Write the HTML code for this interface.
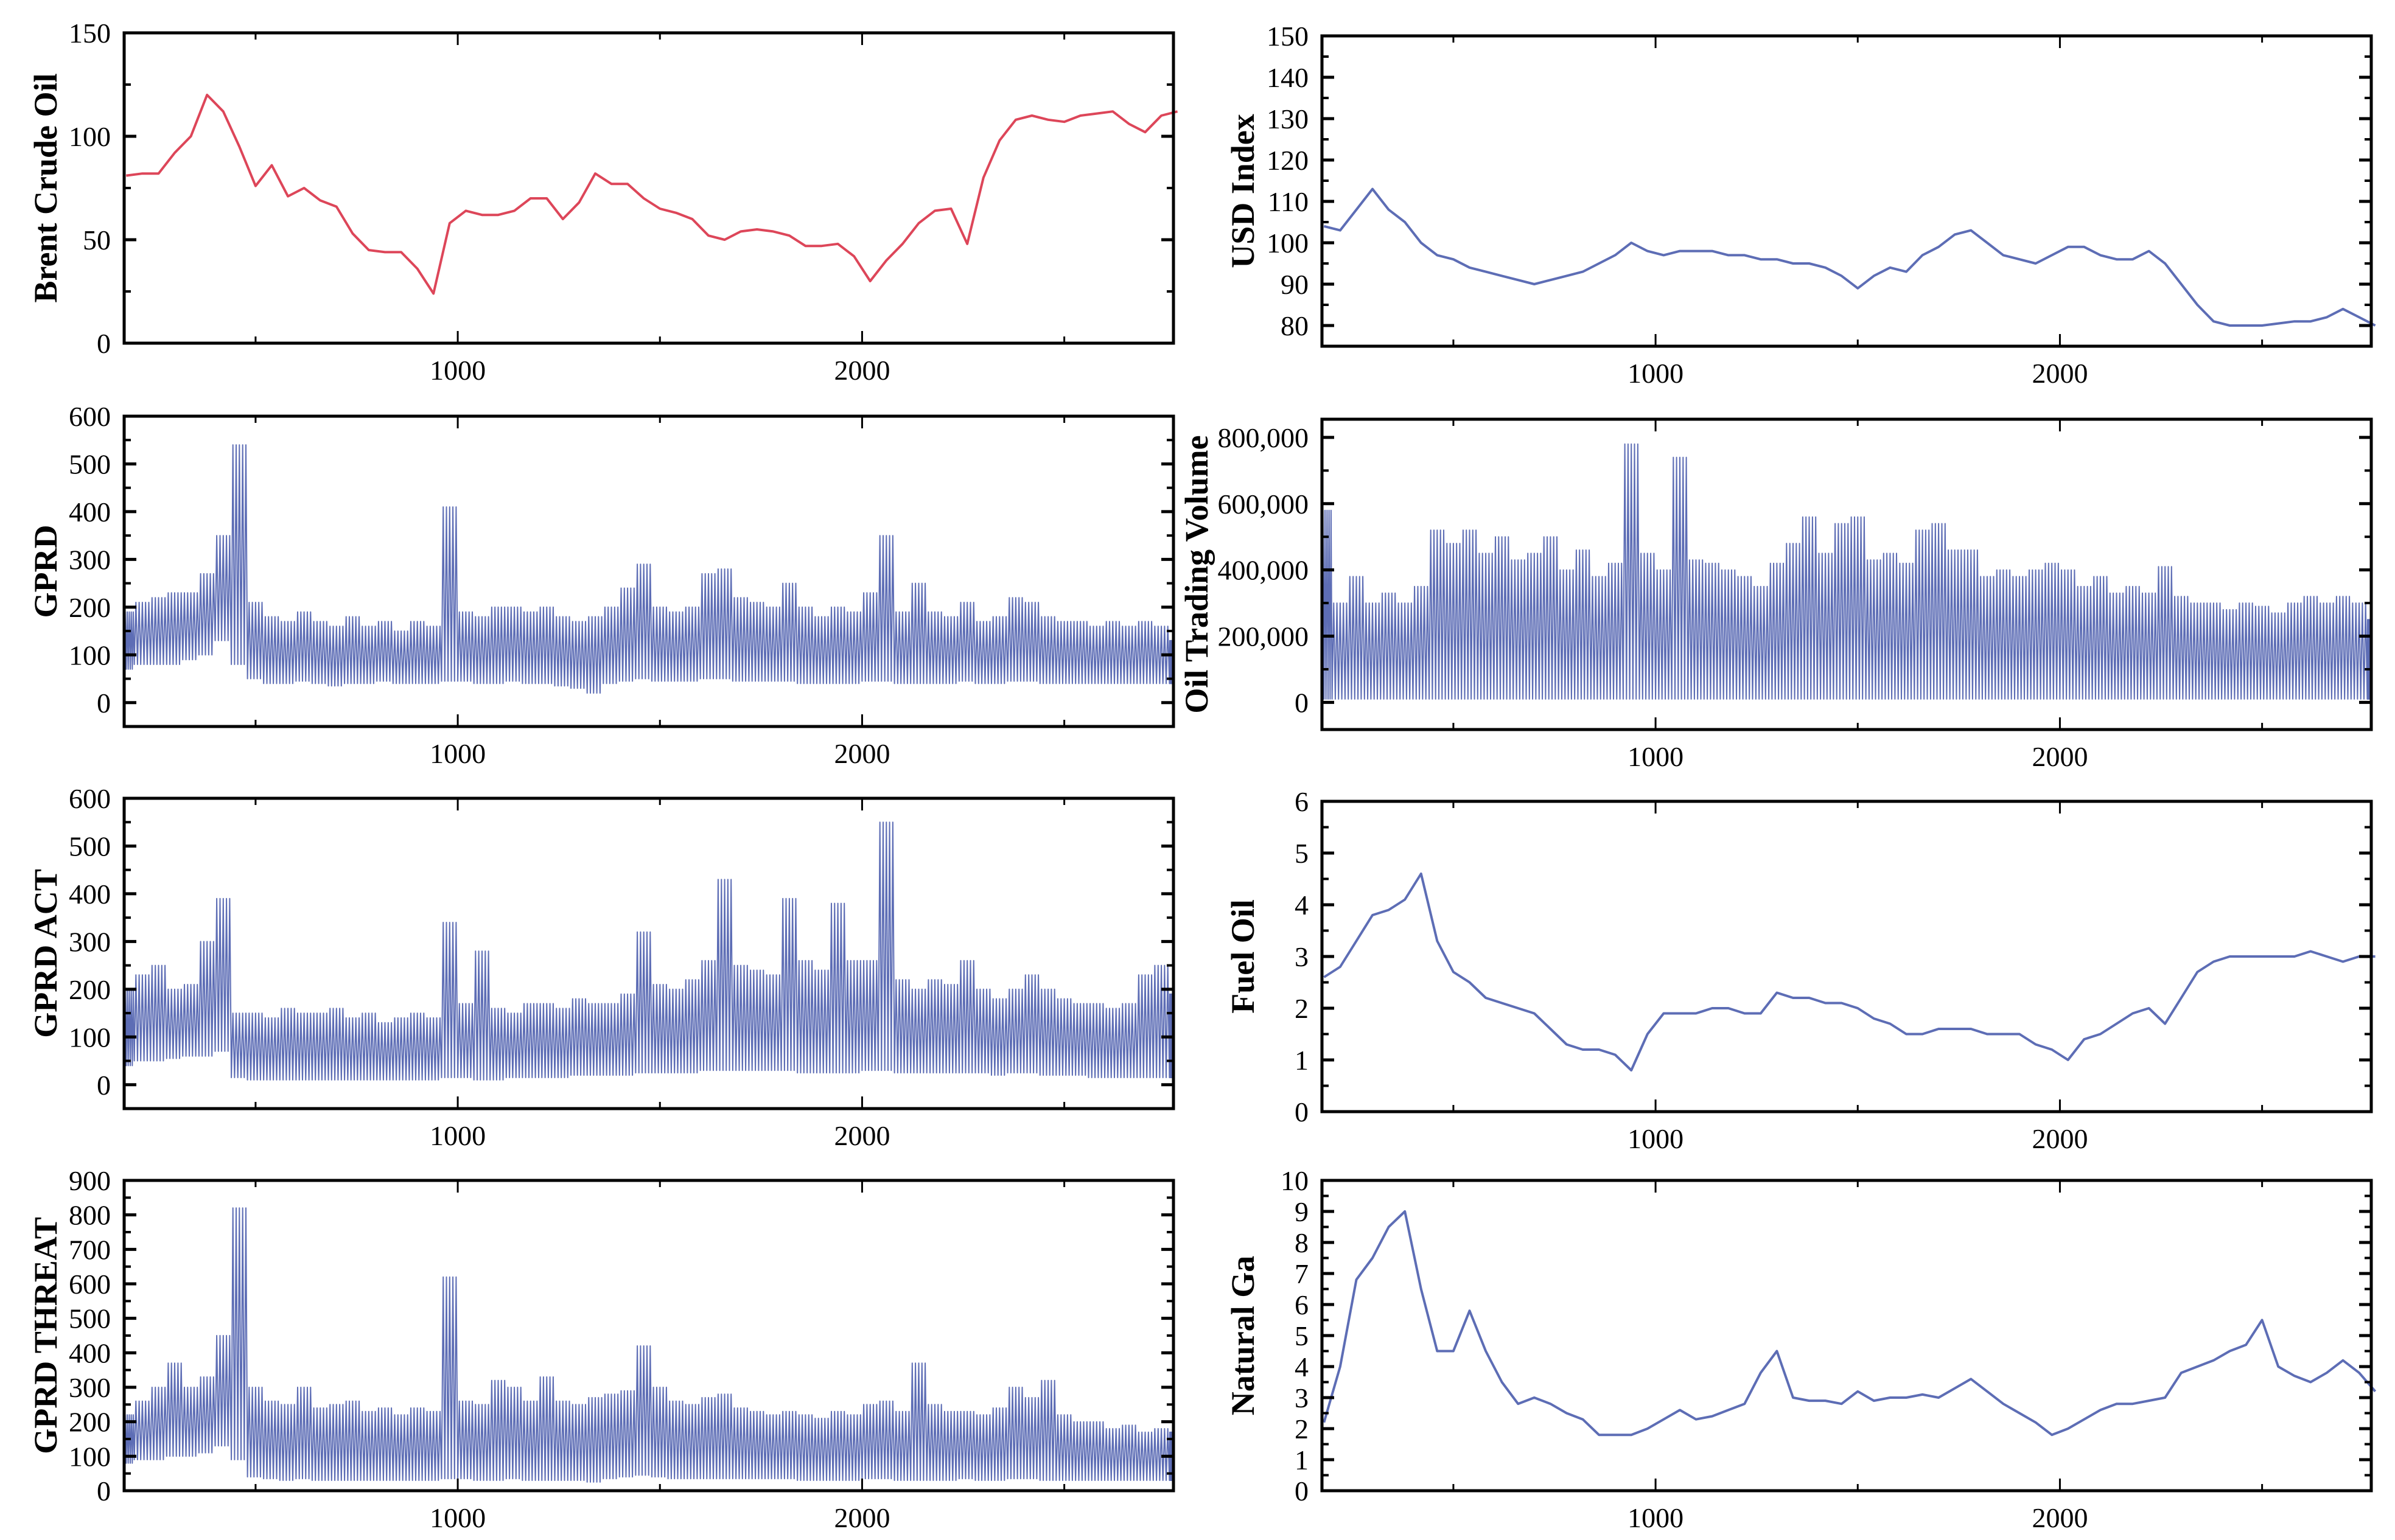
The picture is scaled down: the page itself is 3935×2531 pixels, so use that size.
<!DOCTYPE html>
<html><head><meta charset="utf-8"><style>
html,body{margin:0;padding:0;background:#fff;}
svg{display:block;}
text{font-family:"Liberation Serif","DejaVu Serif",serif;fill:#000;}
</style></head>
<body>
<svg id="chart" width="3935" height="2531" viewBox="0 0 3935 2531" xmlns="http://www.w3.org/2000/svg"></svg>
<script>
const days = [180,220,260,300,340,380,420,460,500,540,580,620,660,700,740,780,820,860,900,940,980,1020,1060,1100,1140,1180,1220,1260,1300,1340,1380,1420,1460,1500,1540,1580,1620,1660,1700,1740,1780,1820,1860,1900,1940,1980,2020,2060,2100,2140,2180,2220,2260,2300,2340,2380,2420,2460,2500,2540,2580,2620,2660,2700,2740,2780];
const xTickLabels = [1000,2000];
const brent = [81,82,82,92,100,120,112,95,76,86,71,75,69,66,53,45,44,44,36,24,58,64,62,62,64,70,70,60,68,82,77,77,70,65,63,60,52,50,54,55,54,52,47,47,48,42,30,40,48,58,64,65,48,80,98,108,110,108,107,110,111,112,106,102,110,112];
const usd = [104,103,108,113,108,105,100,97,96,94,93,92,91,90,91,92,93,95,97,100,98,97,98,98,98,97,97,96,96,95,95,94,92,89,92,94,93,97,99,102,103,100,97,96,95,97,99,99,97,96,96,98,95,90,85,81,80,80,80,80.5,81,81,82,84,82,80];
const fuelOil = [2.6,2.8,3.3,3.8,3.9,4.1,4.6,3.3,2.7,2.5,2.2,2.1,2.0,1.9,1.6,1.3,1.2,1.2,1.1,0.8,1.5,1.9,1.9,1.9,2.0,2.0,1.9,1.9,2.3,2.2,2.2,2.1,2.1,2.0,1.8,1.7,1.5,1.5,1.6,1.6,1.6,1.5,1.5,1.5,1.3,1.2,1.0,1.4,1.5,1.7,1.9,2.0,1.7,2.2,2.7,2.9,3.0,3.0,3.0,3.0,3.0,3.1,3.0,2.9,3.0,3.0];
const naturalGas = [2.2,4.0,6.8,7.5,8.5,9.0,6.5,4.5,4.5,5.8,4.5,3.5,2.8,3.0,2.8,2.5,2.3,1.8,1.8,1.8,2.0,2.3,2.6,2.3,2.4,2.6,2.8,3.8,4.5,3.0,2.9,2.9,2.8,3.2,2.9,3.0,3.0,3.1,3.0,3.3,3.6,3.2,2.8,2.5,2.2,1.8,2.0,2.3,2.6,2.8,2.8,2.9,3.0,3.8,4.0,4.2,4.5,4.7,5.5,4.0,3.7,3.5,3.8,4.2,3.8,3.2];
const gprdHigh = [190,210,220,230,230,270,350,540,210,180,170,190,170,160,180,160,170,150,170,160,410,190,180,200,200,190,200,180,170,180,200,240,290,200,190,200,270,280,220,210,200,250,200,180,200,190,230,350,190,250,190,180,210,170,180,220,210,180,170,170,160,170,160,170,160,130];
const gprdLow = [70,80,80,80,90,100,130,80,50,40,40,45,40,35,40,40,45,40,40,40,45,45,40,40,45,40,40,35,30,20,40,45,50,45,45,45,50,50,45,45,45,45,40,40,40,40,45,45,40,40,40,40,45,40,40,45,45,40,40,40,40,40,40,40,40,40];
const actHigh = [200,230,250,200,210,300,390,150,150,140,160,150,150,160,140,150,130,140,150,140,340,170,280,160,150,170,170,160,180,170,170,190,320,210,200,220,260,430,250,240,230,390,260,240,380,260,260,550,220,200,220,210,260,200,180,200,230,200,180,170,170,160,170,230,250,190];
const actLow = [40,50,50,55,60,60,70,15,10,10,10,10,10,10,10,10,10,10,10,10,15,15,10,10,15,15,15,15,20,20,20,20,25,25,25,25,30,30,30,30,30,30,25,25,25,25,30,30,25,25,25,25,25,25,20,25,25,20,20,20,15,15,15,15,15,15];
const threatHigh = [220,260,300,370,300,330,450,820,300,260,250,300,240,250,260,230,240,220,240,230,620,260,250,320,300,260,330,260,250,270,280,290,420,300,260,250,270,280,240,230,220,230,220,210,230,220,250,260,230,370,250,230,230,220,240,300,270,320,220,200,200,180,190,170,180,170];
const threatLow = [80,90,90,100,100,110,130,90,40,35,30,35,30,30,30,30,30,30,30,30,35,35,30,30,35,30,30,30,30,25,35,40,45,40,35,35,35,35,35,35,35,35,30,30,30,30,35,35,30,30,30,30,35,30,30,35,35,30,30,30,30,30,30,30,30,30];
const volumeHigh = [580,300,380,300,330,300,350,520,480,520,450,500,430,450,500,400,460,380,420,780,450,400,740,430,420,400,380,350,420,480,560,450,540,560,430,450,420,520,540,460,460,380,400,380,400,420,400,350,380,330,350,330,410,320,300,300,280,300,290,270,300,320,300,320,300,250];
const volumeLow = [10,10,10,10,10,10,10,10,10,10,10,10,10,10,10,10,10,10,10,10,10,10,10,10,10,10,10,10,10,10,10,10,10,10,10,10,10,10,10,10,10,10,10,10,10,10,10,10,10,10,10,10,10,10,10,10,10,10,10,10,10,10,10,10,10,10];

const svg = document.getElementById('chart');
const NS = 'http://www.w3.org/2000/svg';
const RED = '#dd4659', BLUE = '#5d6db5';
const XMIN = 175, XMAX = 2770;

function mk(tag, attrs, parent){
  const e = document.createElementNS(NS, tag);
  for (const k in attrs) e.setAttribute(k, attrs[k]);
  parent.appendChild(e);
  return e;
}

function panel(cfg){
  const {left, top, w, h, ymin, ymax, major, minor, title, fmt, name} = cfg;
  const g = mk('g', {}, svg);
  
  
  const xs = v => left + (v - XMIN) / (XMAX - XMIN) * w;
  const ys = v => top + h - (v - ymin) / (ymax - ymin) * h;
  let pts = [];
  if (cfg.values) {
    cfg.values.forEach((v, i) => pts.push(xs(days[i]).toFixed(1) + ',' + ys(v).toFixed(1)));
  } else {
    const hi = cfg.high, lo = cfg.low, k = cfg.scale || 1;
    days.forEach((d, i) => {
      const d0 = i === 0 ? XMIN : d - 20;
      const d1 = Math.min(d + 20, XMAX);
      const n = 5;
      for (let j = 0; j < n; j++) {
        const a = d0 + (d1 - d0) * (j / n), b = d0 + (d1 - d0) * ((j + 0.5) / n);
        pts.push(xs(a).toFixed(1) + ',' + ys(lo[i] * k).toFixed(1));
        pts.push(xs(b).toFixed(1) + ',' + ys(hi[i] * k).toFixed(1));
      }
    });
  }
  const line = mk('polyline', {points: pts.join(' '), fill: 'none', stroke: cfg.color, 'stroke-width': cfg.values ? 4 : 2, 'stroke-linejoin': 'round'}, g);
  
  
  const fr = mk('rect', {x: left, y: top, width: w, height: h, fill: 'none', stroke: '#000', 'stroke-width': 5}, g);
  
  
  for (let v = ymin <= 0 ? 0 : major; v <= ymax + 1e-9; v += major) {
    if (v < ymin) continue;
    const y = ys(v);
    mk('line', {x1: left, x2: left + 20, y1: y, y2: y, stroke: '#000', 'stroke-width': 5}, g);
    mk('line', {x1: left + w, x2: left + w - 20, y1: y, y2: y, stroke: '#000', 'stroke-width': 5}, g);
    const t = mk('text', {x: left - 22, y: y + 16, 'font-size': 46, 'text-anchor': 'end'}, g);
    t.textContent = fmt ? fmt(v) : String(v);
    
    
  }
  for (let v = minor; v <= ymax + 1e-9; v += major) {
    if (v < ymin) continue;
    const y = ys(v);
    mk('line', {x1: left, x2: left + 11, y1: y, y2: y, stroke: '#000', 'stroke-width': 4}, g);
    mk('line', {x1: left + w, x2: left + w - 11, y1: y, y2: y, stroke: '#000', 'stroke-width': 4}, g);
  }
  [500, 1500, 2500].forEach(v => {
    const x = xs(v);
    mk('line', {x1: x, x2: x, y1: top + h, y2: top + h - 11, stroke: '#000', 'stroke-width': 3}, g);
    mk('line', {x1: x, x2: x, y1: top, y2: top + 11, stroke: '#000', 'stroke-width': 3}, g);
  });
  xTickLabels.forEach(v => {
    const x = xs(v);
    mk('line', {x1: x, x2: x, y1: top + h, y2: top + h - 20, stroke: '#000', 'stroke-width': 3}, g);
    mk('line', {x1: x, x2: x, y1: top, y2: top + 20, stroke: '#000', 'stroke-width': 3}, g);
    const t = mk('text', {x: x, y: top + h + 60, 'font-size': 46, 'text-anchor': 'middle'}, g);
    t.textContent = String(v);
    
    
  });
  const tx = cfg.titleX, ty = top + h / 2;
  const tt = mk('text', {x: tx, y: ty, 'font-size': 54, 'font-weight': 'bold', 'text-anchor': 'middle', transform: `rotate(-90 ${tx} ${ty})`, 'dominant-baseline': 'central'}, g);
  tt.textContent = title;
  
  
}

const LX = 204, RX = 2172, W = 1724, H = 510;
const LT = [54, 684, 1312, 1940], RT = [59, 689, 1317, 1940];
const comma = v => v.toLocaleString('en-US');

panel({name: 'brent-crude-oil', left: LX, top: LT[0], w: W, h: H, ymin: 0, ymax: 150, major: 50, minor: 25, title: 'Brent Crude Oil', titleX: 75, color: RED, values: brent});
panel({name: 'gprd', left: LX, top: LT[1], w: W, h: H, ymin: -50, ymax: 600, major: 100, minor: 50, title: 'GPRD', titleX: 75, color: BLUE, high: gprdHigh, low: gprdLow});
panel({name: 'gprd-act', left: LX, top: LT[2], w: W, h: H, ymin: -50, ymax: 600, major: 100, minor: 50, title: 'GPRD ACT', titleX: 75, color: BLUE, high: actHigh, low: actLow});
panel({name: 'gprd-threat', left: LX, top: LT[3], w: W, h: H, ymin: 0, ymax: 900, major: 100, minor: 50, title: 'GPRD THREAT', titleX: 75, color: BLUE, high: threatHigh, low: threatLow});

panel({name: 'usd-index', left: RX, top: RT[0], w: W, h: H, ymin: 75, ymax: 150, major: 10, minor: 85, title: 'USD Index', titleX: 2042, color: BLUE, values: usd});
panel({name: 'oil-trading-volume', left: RX, top: RT[1], w: W, h: H, ymin: -82000, ymax: 855000, major: 200000, minor: 100000, title: 'Oil Trading Volume', titleX: 1966, color: BLUE, high: volumeHigh, low: volumeLow, scale: 1000, fmt: comma});
panel({name: 'fuel-oil', left: RX, top: RT[2], w: W, h: H, ymin: 0, ymax: 6, major: 1, minor: 0.5, title: 'Fuel Oil', titleX: 2042, color: BLUE, values: fuelOil});
panel({name: 'natural-gas', left: RX, top: RT[3], w: W, h: H, ymin: 0, ymax: 10, major: 1, minor: 0.5, title: 'Natural Ga', titleX: 2042, color: BLUE, values: naturalGas});
</script>
</body></html>
